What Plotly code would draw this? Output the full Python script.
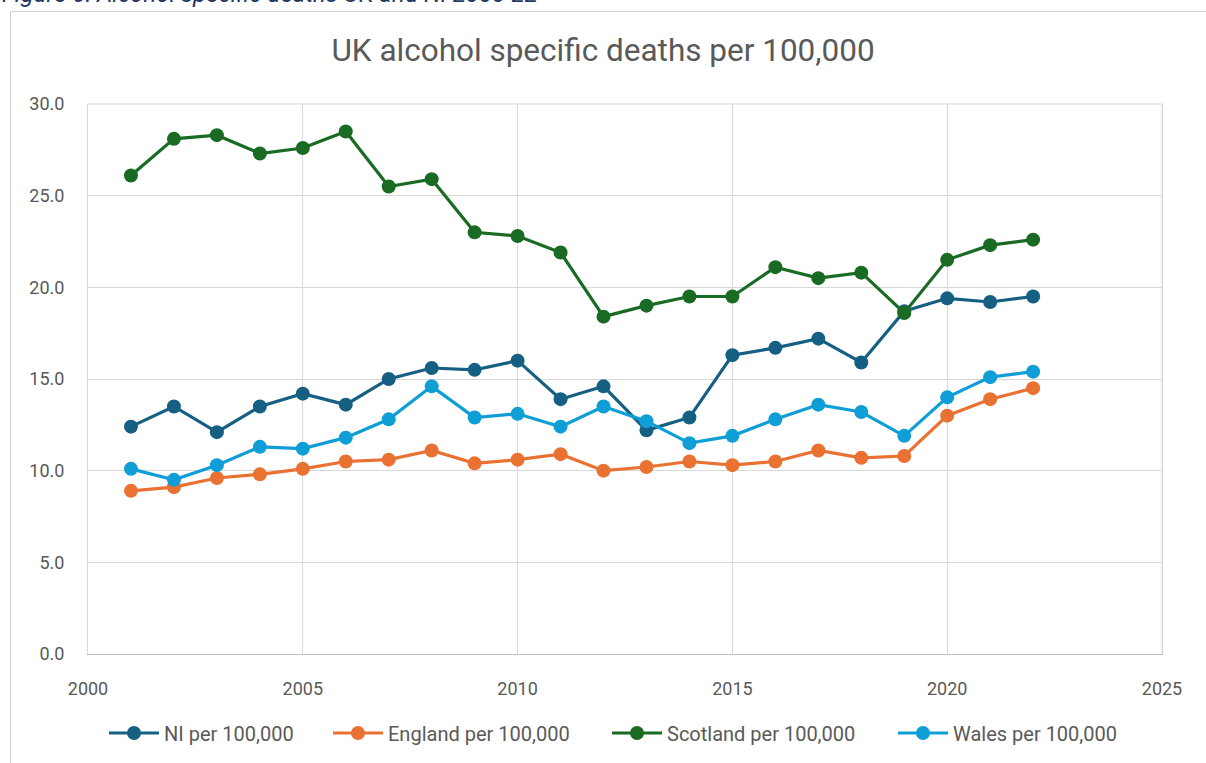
import plotly.graph_objects as go

years = list(range(2001, 2023))
ni = [12.4, 13.5, 12.1, 13.5, 14.2, 13.6, 15.0, 15.6, 15.5, 16.0, 13.9,
      14.6, 12.2, 12.9, 16.3, 16.7, 17.2, 15.9, 18.7, 19.4, 19.2, 19.5]
england = [8.9, 9.1, 9.6, 9.8, 10.1, 10.5, 10.6, 11.1, 10.4, 10.6, 10.9,
           10.0, 10.2, 10.5, 10.3, 10.5, 11.1, 10.7, 10.8, 13.0, 13.9, 14.5]
scotland = [26.1, 28.1, 28.3, 27.3, 27.6, 28.5, 25.5, 25.9, 23.0, 22.8, 21.9,
            18.4, 19.0, 19.5, 19.5, 21.1, 20.5, 20.8, 18.6, 21.5, 22.3, 22.6]
wales = [10.1, 9.5, 10.3, 11.3, 11.2, 11.8, 12.8, 14.6, 12.9, 13.1, 12.4,
         13.5, 12.7, 11.5, 11.9, 12.8, 13.6, 13.2, 11.9, 14.0, 15.1, 15.4]

series = [
    ("NI per 100,000", ni, "#156082"),
    ("England per 100,000", england, "#E97132"),
    ("Scotland per 100,000", scotland, "#196B24"),
    ("Wales per 100,000", wales, "#0F9ED5"),
]

FONT = "Roboto"
GREY = "#595959"

W, H = 1206, 763
L, R, T, B = 88, 44, 104, 108
pw, ph = W - L - R, H - T - B

def px_x(px):
    return (px - L) / pw

def px_y(py):
    return 1 + (T - py) / ph

legend_starts = [110, 334, 613, 899]  # pixel x of each legend line start
legend_ids = ["legend", "legend2", "legend3", "legend4"]

fig = go.Figure()
for (name, vals, col), lid in zip(series, legend_ids):
    fig.add_trace(go.Scatter(
        x=years, y=vals, name=name, mode="lines+markers",
        line=dict(color=col, width=3.2),
        marker=dict(color=col, size=14),
        legend=lid,
    ))

legend_layouts = {}
for lid, sx in zip(legend_ids, legend_starts):
    legend_layouts[lid] = dict(
        orientation="h", x=px_x(sx - 6), xanchor="left",
        y=px_y(733), yanchor="middle",
        font=dict(family=FONT, size=20, color=GREY),
        itemwidth=50, bgcolor="rgba(0,0,0,0)",
    )

fig.update_layout(
    width=W, height=H,
    margin=dict(l=L, r=R, t=T, b=B),
    paper_bgcolor="white", plot_bgcolor="white",
    font=dict(family=FONT, color=GREY, size=18),
    title=dict(text="UK alcohol specific deaths per 100,000",
               x=0.5, xanchor="center", y=1 - 50 / H, yanchor="middle",
               font=dict(family=FONT, size=31.5, color=GREY)),
    showlegend=True,
    xaxis=dict(range=[2000, 2025], dtick=5, tick0=2000,
               showgrid=True, gridcolor="#d9d9d9", gridwidth=1,
               showline=True, linecolor="#bfbfbf", linewidth=1, mirror=False,
               zeroline=False, ticks="", ticklabelstandoff=18,
               tickfont=dict(size=18, color=GREY)),
    yaxis=dict(range=[0, 30], dtick=5, tickformat=".1f",
               showgrid=True, gridcolor="#d9d9d9", gridwidth=1,
               showline=True, linecolor="#d9d9d9", linewidth=1, mirror=True,
               zeroline=False, ticks="", ticklabelstandoff=19,
               tickfont=dict(size=18, color=GREY)),
    **legend_layouts,
)

# right and top borders of plot area
fig.add_shape(type="line", xref="paper", yref="paper", x0=1, x1=1, y0=0, y1=1,
              line=dict(color="#d9d9d9", width=1))
fig.add_shape(type="line", xref="paper", yref="paper", x0=0, x1=1, y0=1, y1=1,
              line=dict(color="#d9d9d9", width=1))

# outer chart frame
fig.add_shape(type="rect", xref="paper", yref="paper",
              x0=px_x(10.5), x1=px_x(1230), y0=px_y(11.5), y1=px_y(800),
              line=dict(color="#d0d0d0", width=1), layer="below")

# caption at the top (cut off by the page edge, as in the source image)
fig.add_annotation(text="<i>Figure 6: Alcohol specific deaths UK and NI 2000-22</i>",
                   xref="paper", yref="paper", x=px_x(0), xanchor="left",
                   y=px_y(10), yanchor="bottom", showarrow=False,
                   font=dict(family=FONT, size=24, color="#1F3864"))

fig.write_html("out.html")
